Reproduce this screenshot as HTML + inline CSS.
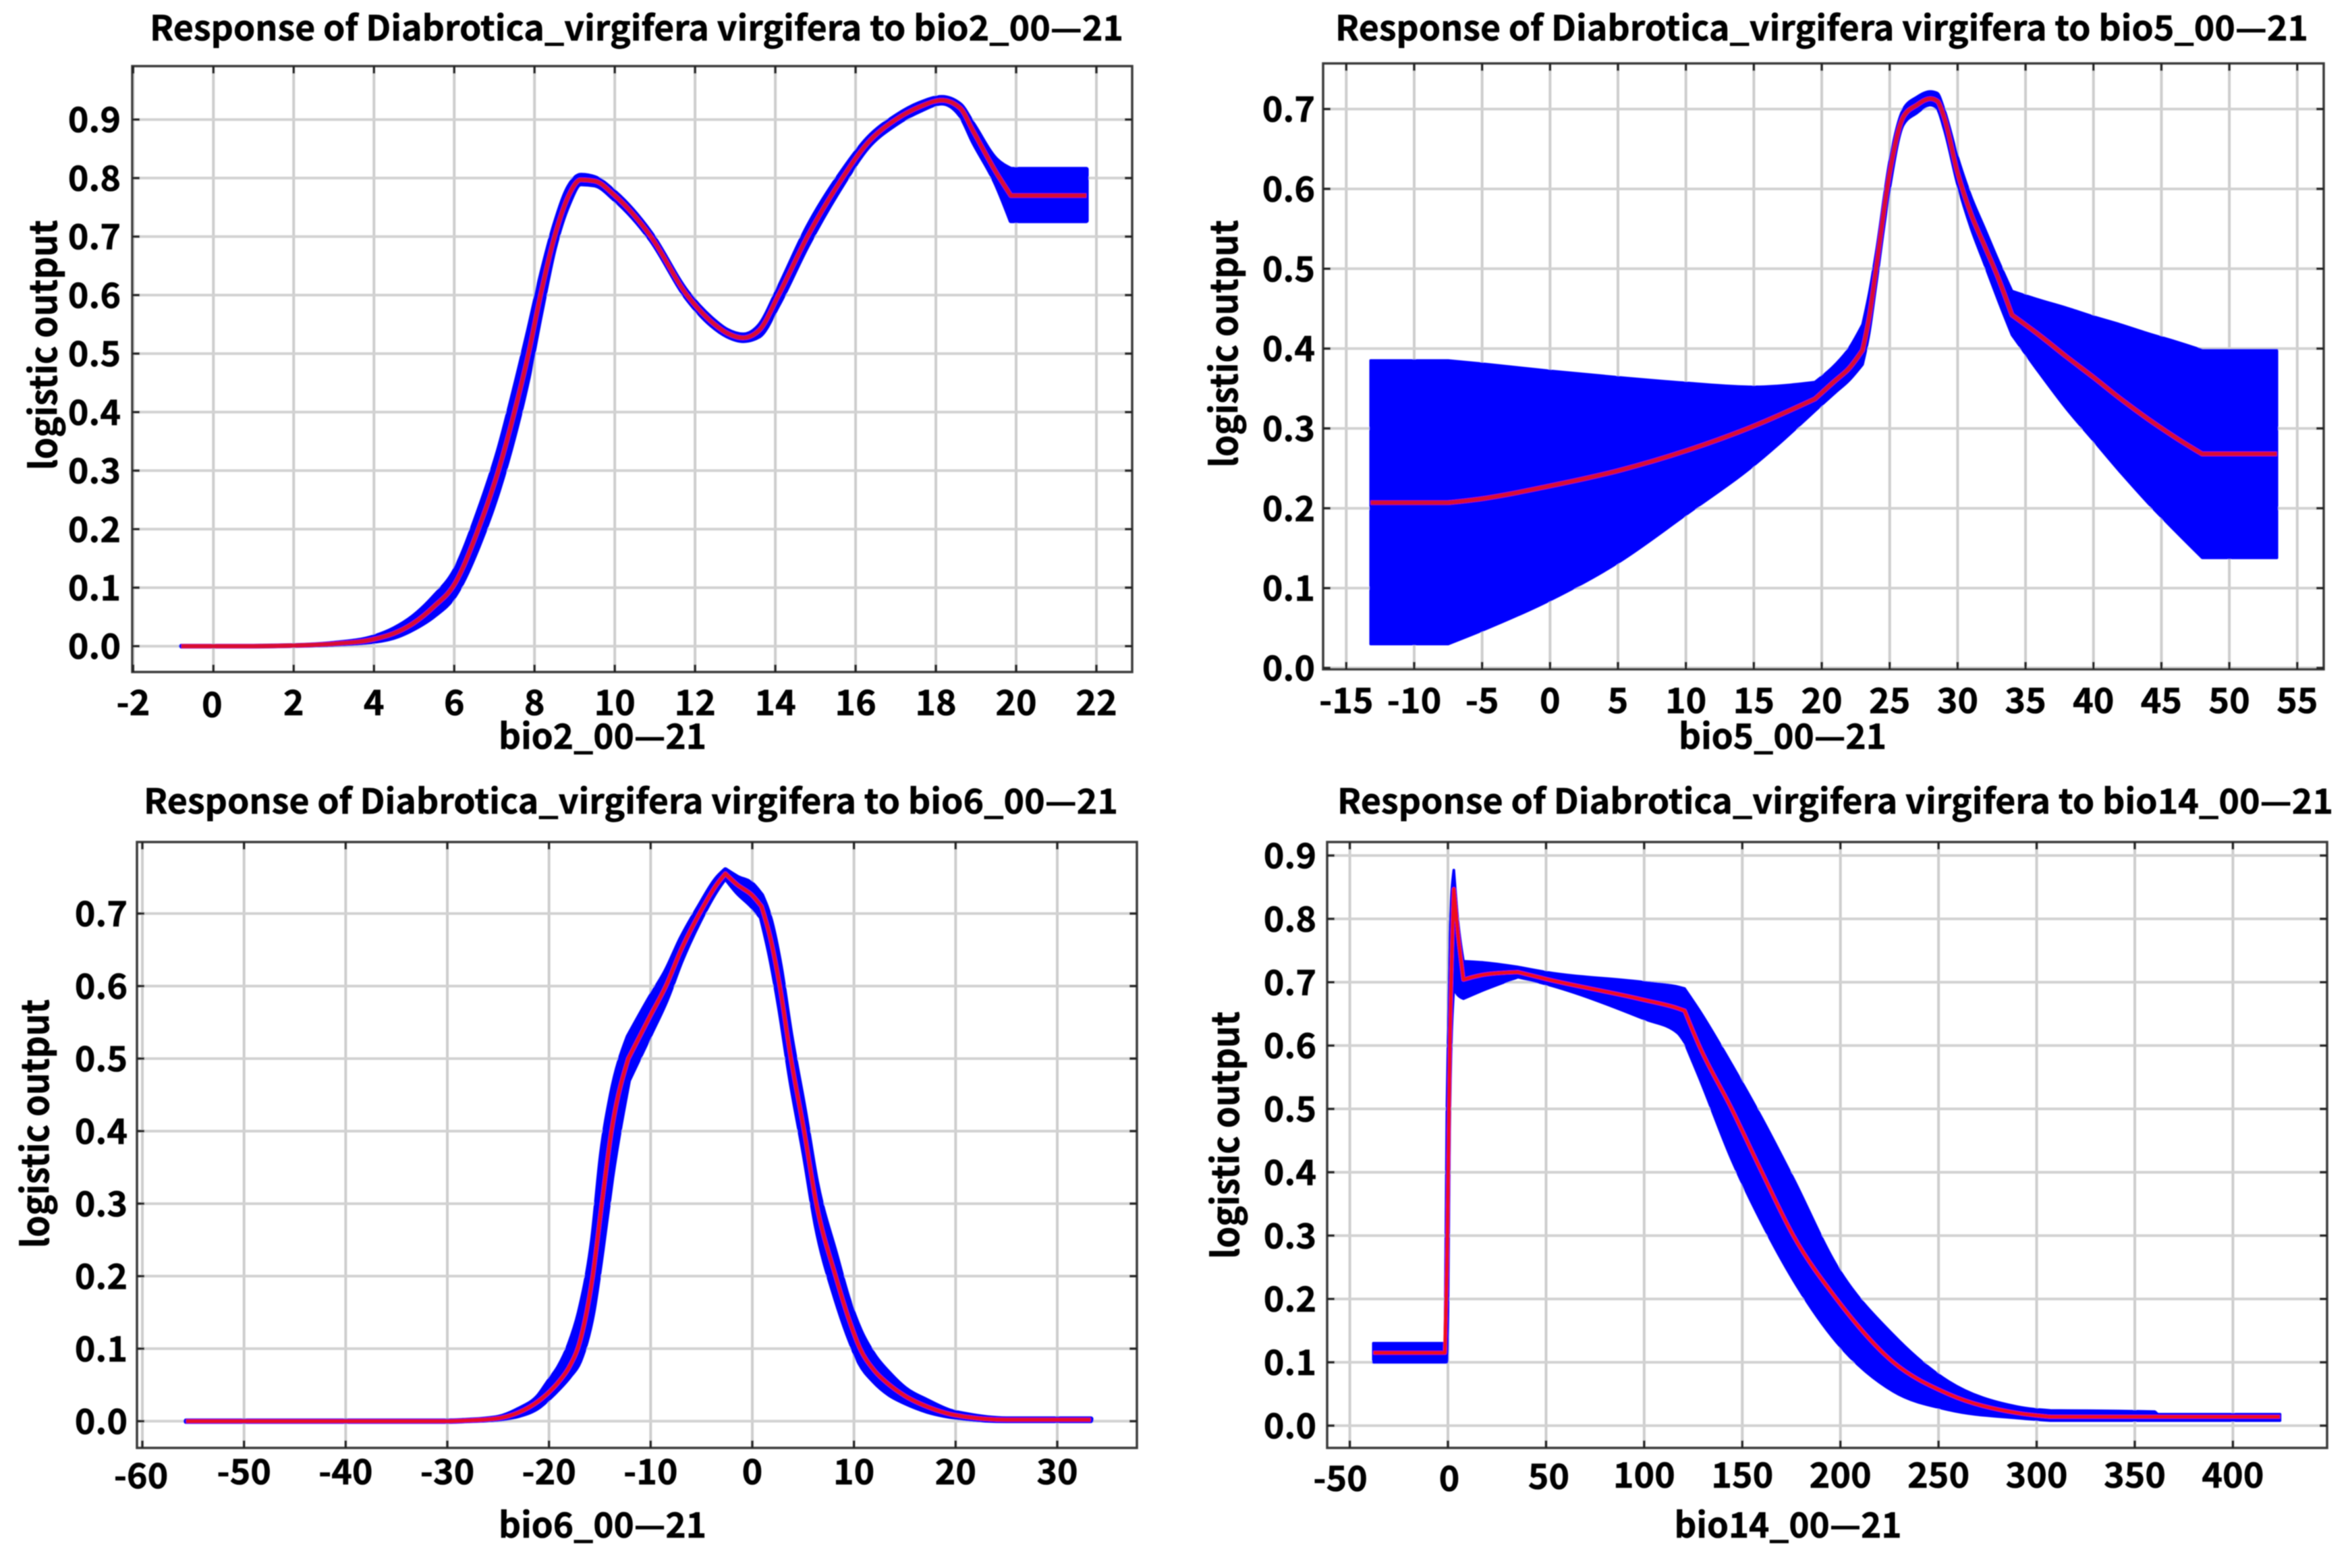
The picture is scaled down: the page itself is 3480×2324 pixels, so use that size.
<!DOCTYPE html>
<html lang="en">
<head>
<meta charset="utf-8">
<title>Response curves</title>
<style>
html,body{margin:0;padding:0;background:#fff;width:3480px;height:2324px;overflow:hidden}
svg{display:block}
text{font-family:"Noto Sans CJK SC","Liberation Sans",sans-serif;font-weight:700;fill:#000;stroke:#000;stroke-width:.6px}
</style>
</head>
<body>
<svg id="chart" xmlns="http://www.w3.org/2000/svg" width="3480" height="2324" viewBox="0 0 3480 2324">
<defs><filter id="soft" filterUnits="userSpaceOnUse" x="0" y="0" width="3480" height="2324"><feGaussianBlur stdDeviation="0.8"/></filter></defs>
<rect width="3480" height="2324" fill="#fff"/>
<g id="root" filter="url(#soft)"></g>
</svg>
<script>
// bio2 data
const bio2X = [-0.8,1,2,3,4,4.5,5,5.5,6,6.6,7.1,7.5,7.85,8.15,8.5,8.85,9.15,9.5,10,10.9,11.8,12.4,12.8,13.2,13.6,14.08,14.8,15.67,16.3,17,17.6,18.15,18.6,18.93,19.5,19.87,21.75];
const bio2Mean = [0,0,.001,.004,.012,.022,.04,.068,.105,.2,.3,.4,.5,.6,.7,.77,.797,.795,.77,.7,.6,.555,.535,.527,.54,.6,.7,.8,.86,.9,.922,.933,.92,.88,.81,.77,.77];
const bio2Upper = [0,0,.001,.005,.016,.03,.052,.085,.128,.23,.335,.44,.54,.63,.72,.785,.805,.801,.776,.706,.606,.561,.54,.532,.548,.612,.716,.812,.868,.906,.928,.938,.926,.892,.832,.815,.815];
const bio2Lower = [0,0,.001,.003,.008,.015,.03,.052,.085,.17,.265,.36,.46,.565,.68,.755,.79,.788,.763,.694,.594,.549,.53,.522,.53,.584,.684,.788,.852,.892,.915,.928,.908,.862,.79,.727,.727];
const bio2Kinks = [19.87];
const bio2XTicks = [-2,0,2,4,6,8,10,12,14,16,18,20,22];
const bio2YTicks = [0,.1,.2,.3,.4,.5,.6,.7,.8,.9];

// bio5 data
const bio5X = [-13.2,-7.5,-5,0,5,10,15,19.5,21,22,23,23.5,24,25,26,27,28,28.5,29,30,31,32,33,34,36,38,40,42,44,46,48,53.5];
const bio5Mean = [.207,.207,.212,.228,.247,.272,.303,.337,.36,.375,.398,.44,.5,.62,.69,.705,.713,.71,.69,.62,.568,.528,.488,.442,.417,.39,.364,.337,.312,.289,.268,.268];
const bio5Upper = [.385,.385,.381,.372,.364,.357,.352,.358,.38,.4,.43,.47,.52,.635,.7,.715,.722,.72,.7,.64,.59,.55,.51,.472,.461,.451,.44,.43,.419,.409,.398,.398];
const bio5Lower = [.03,.03,.047,.085,.132,.192,.254,.322,.345,.36,.38,.42,.48,.6,.68,.695,.705,.7,.675,.605,.55,.505,.46,.417,.37,.325,.285,.245,.207,.172,.138,.138];
const bio5Kinks = [-7.5,19.5,23,34,48];
const bio5XTicks = [-15,-10,-5,0,5,10,15,20,25,30,35,40,45,50,55];
const bio5YTicks = [0,.1,.2,.3,.4,.5,.6,.7];

// bio6 data
const bio6X = [-55.7,-30,-28,-25,-23,-21,-20,-19,-18,-17,-15.7,-14.8,-13.85,-12.2,-10,-8.5,-7,-5.2,-3.5,-2.65,-1.5,0,.9,1.8,2.7,3.8,5.1,6.3,8.2,9.4,10.6,12,13.5,15,17.2,19.4,21,25,33.3];
const bio6Mean = [0,0,.001,.004,.012,.028,.04,.055,.075,.108,.2,.3,.4,.5,.56,.6,.65,.7,.74,.755,.74,.725,.71,.665,.6,.5,.4,.3,.2,.145,.1,.07,.05,.035,.02,.01,.006,.002,.002];
const bio6Upper = [0,0,.001,.005,.016,.035,.055,.075,.105,.15,.25,.37,.45,.53,.585,.62,.665,.71,.748,.76,.75,.74,.725,.69,.63,.53,.43,.33,.23,.17,.125,.09,.065,.045,.028,.014,.009,.003,.003];
const bio6Lower = [0,0,.001,.003,.008,.02,.032,.046,.062,.083,.15,.235,.335,.47,.535,.58,.635,.69,.733,.75,.73,.71,.695,.64,.57,.47,.37,.27,.17,.12,.08,.055,.037,.026,.014,.007,.004,.001,.001];
const bio6Kinks = [-12.2,-2.65,.9];
const bio6XTicks = [-60,-50,-40,-30,-20,-10,0,10,20,30];
const bio6YTicks = [0,.1,.2,.3,.4,.5,.6,.7];

// bio14 data
const bio14X = [-38,-1.5,-.5,1,3,5,7.9,18.5,35.7,50,100,117,120.6,128,144.6,160,176,198,227,255,290,307,360,362,424];
const bio14Mean = [.115,.115,.25,.6,.847,.78,.704,.712,.716,.705,.672,.659,.655,.6,.5,.4,.3,.2,.1,.05,.02,.014,.014,.014,.014];
const bio14Upper = [.13,.13,.5,.78,.877,.8,.733,.731,.724,.716,.7,.693,.69,.656,.57,.485,.39,.253,.143,.07,.03,.024,.022,.018,.018];
const bio14Lower = [.1,.1,.1,.5,.69,.68,.674,.688,.708,.697,.642,.62,.605,.55,.42,.32,.23,.132,.054,.025,.012,.008,.008,.008,.008];
const bio14Kinks = [-1.5,3,7.9,35.7,120.6,307];
const bio14XTicks = [-50,0,50,100,150,200,250,300,350,400];
const bio14YTicks = [0,.1,.2,.3,.4,.5,.6,.7,.8,.9];

const NS = 'http://www.w3.org/2000/svg';
const root = document.getElementById('root');

function make(parent, tag, attrs, text) {
  const el = document.createElementNS(NS, tag);
  for (const k in attrs) el.setAttribute(k, attrs[k]);
  if (text !== undefined) el.textContent = text;
  parent.appendChild(el);
  return el;
}
function linear(d0, d1, r0, r1) {
  return v => r0 + (v - d0) * (r1 - r0) / (d1 - d0);
}
// monotone cubic segments over one unbroken run of points
function monoRun(xs, ys) {
  const n = xs.length, segs = [];
  if (n < 2) return segs;
  const h = [], m = [], t = new Array(n);
  for (let i = 0; i < n - 1; i++) { h[i] = xs[i + 1] - xs[i]; m[i] = (ys[i + 1] - ys[i]) / h[i]; }
  for (let i = 1; i < n - 1; i++) {
    const p = (m[i - 1] * h[i] + m[i] * h[i - 1]) / (h[i - 1] + h[i]);
    t[i] = (Math.sign(m[i - 1]) + Math.sign(m[i])) * Math.min(Math.abs(m[i - 1]), Math.abs(m[i]), 0.5 * Math.abs(p));
  }
  if (n === 2) { t[0] = m[0]; t[1] = m[0]; }
  else { t[0] = (3 * m[0] - t[1]) / 2; t[n - 1] = (3 * m[n - 2] - t[n - 2]) / 2; }
  for (let i = 0; i < n - 1; i++) {
    segs.push([xs[i], ys[i], xs[i] + h[i] / 3, ys[i] + t[i] * h[i] / 3, xs[i + 1] - h[i] / 3, ys[i + 1] - t[i + 1] * h[i] / 3, xs[i + 1], ys[i + 1]]);
  }
  return segs;
}
function curveSegs(xs, ys, breaks) {
  const cuts = [0].concat(breaks.filter(b => b > 0 && b < xs.length - 1).sort((a, b) => a - b), [xs.length - 1]);
  let out = [];
  for (let c = 0; c < cuts.length - 1; c++) {
    out = out.concat(monoRun(xs.slice(cuts[c], cuts[c + 1] + 1), ys.slice(cuts[c], cuts[c + 1] + 1)));
  }
  return out;
}
function f1(v) { return v.toFixed(1); }
function forwardPath(segs) {
  return segs.map(s => 'C' + [s[2], s[3], s[4], s[5], s[6], s[7]].map(f1).join(' ')).join('');
}
function reversePath(segs) {
  return segs.slice().reverse().map(s => 'C' + [s[4], s[5], s[2], s[3], s[0], s[1]].map(f1).join(' ')).join('');
}

function drawPanel(p) {
  const sx = linear(p.xCal[0], p.xCal[1], p.xCal[2], p.xCal[3]);
  const sy = linear(p.yCal[0], p.yCal[1], p.yCal[2], p.yCal[3]);
  const f = p.frame;

  const g = make(root, 'g', {});
  
  

  const title = make(g, 'text', {x: (p.title[0] + p.title[1]) / 2, y: p.title[2], 'text-anchor': 'middle', 'font-size': 51, textLength: p.title[1] - p.title[0], lengthAdjust: 'spacingAndGlyphs'}, 'Response of Diabrotica_virgifera virgifera to ' + p.id + '_00\u201421');
  
  

  // grid lines
  p.xTicks.forEach(t => {
    const line = make(g, 'line', {x1: sx(t), x2: sx(t), y1: f[2], y2: f[3], stroke: '#cdcdcd', 'stroke-width': 4});
    
    
  });
  p.yTicks.forEach(t => {
    const line = make(g, 'line', {x1: f[0], x2: f[1], y1: sy(t), y2: sy(t), stroke: '#d2d2d2', 'stroke-width': 4});
    
    
  });

  const px = p.x.map(sx);
  const breaks = p.kinks.map(k => p.x.indexOf(k));

  // uncertainty band
  const upSegs = curveSegs(px, p.upper.map(sy), breaks);
  const loSegs = curveSegs(px, p.lower.map(sy), breaks);
  const bandD = 'M' + f1(upSegs[0][0]) + ' ' + f1(upSegs[0][1]) + forwardPath(upSegs) +
    'L' + f1(loSegs[loSegs.length - 1][6]) + ' ' + f1(loSegs[loSegs.length - 1][7]) + reversePath(loSegs) + 'Z';
  const band = make(g, 'path', {d: bandD, fill: '#0000ff', stroke: '#0000ff', 'stroke-width': p.bandStroke, 'stroke-linejoin': 'round'});
  
  

  // mean line
  const meanSegs = curveSegs(px, p.mean.map(sy), breaks);
  const mean = make(g, 'path', {d: 'M' + f1(meanSegs[0][0]) + ' ' + f1(meanSegs[0][1]) + forwardPath(meanSegs), fill: 'none', stroke: p.lineColor, 'stroke-width': p.lineWidth, 'stroke-linejoin': 'round'});
  
  

  // frame
  const frame = make(g, 'rect', {x: f[0], y: f[2], width: f[1] - f[0], height: f[3] - f[2], fill: 'none', stroke: '#3a3a3a', 'stroke-width': 3.5});
  
  

  // ticks & labels
  p.xTicks.forEach(t => {
    [[f[3], f[3] - 11], [f[2], f[2] + 11]].forEach(pair => {
      const tick = make(g, 'line', {x1: sx(t), x2: sx(t), y1: pair[0], y2: pair[1], stroke: '#222', 'stroke-width': 3.5});
      
      
    });
    const nudge = p.nudge[t] || [0, 0];
    const lab = make(g, 'text', {x: sx(t) + nudge[0], y: p.xLabelY + nudge[1], 'text-anchor': 'middle', 'font-size': 52}, String(t));
    
    
  });
  p.yTicks.forEach(t => {
    [[f[0], f[0] + 11], [f[1], f[1] - 11]].forEach(pair => {
      const tick = make(g, 'line', {x1: pair[0], x2: pair[1], y1: sy(t), y2: sy(t), stroke: '#222', 'stroke-width': 3.5});
      
      
    });
    const lab = make(g, 'text', {x: p.yLabelX, y: sy(t) + 19, 'text-anchor': 'end', 'font-size': 52}, t.toFixed(1));
    
    
  });

  const xTitle = make(g, 'text', {x: p.xTitle[0], y: p.xTitle[1], 'text-anchor': 'middle', 'font-size': 52, textLength: p.xTitle[2], lengthAdjust: 'spacingAndGlyphs'}, p.id + '_00\u201421');
  
  

  const yMid = (p.yTitle[1] + p.yTitle[2]) / 2;
  const yTitle = make(g, 'text', {x: 0, y: 0, transform: 'translate(' + p.yTitle[0] + ',' + yMid + ') rotate(-90)', 'text-anchor': 'middle', 'font-size': 55, textLength: p.yTitle[2] - p.yTitle[1], lengthAdjust: 'spacingAndGlyphs'}, 'logistic output');
  
  
}

drawPanel({id: 'bio2', x: bio2X, mean: bio2Mean, upper: bio2Upper, lower: bio2Lower, kinks: bio2Kinks, xTicks: bio2XTicks, yTicks: bio2YTicks,
  frame: [196, 1678, 98, 996], xCal: [0, 22, 316.3, 1625], yCal: [0, .9, 957.7, 177.2],
  title: [222, 1665, 60], xLabelY: 1060, yLabelX: 179, xTitle: [893, 1110, 308], yTitle: [84, 326, 697],
  nudge: {0: [-2, 3]}, bandStroke: 7, lineColor: '#d80a30', lineWidth: 6.5});
drawPanel({id: 'bio5', x: bio5X, mean: bio5Mean, upper: bio5Upper, lower: bio5Lower, kinks: bio5Kinks, xTicks: bio5XTicks, yTicks: bio5YTicks,
  frame: [1961, 3444, 94, 992], xCal: [-15, 55, 1995.3, 3404.8], yCal: [0, .7, 990, 161.6],
  title: [1979, 3421, 60], xLabelY: 1057, yLabelX: 1949, xTitle: [2642, 1110, 308], yTitle: [1834, 326, 693],
  nudge: {}, bandStroke: 4, lineColor: '#d80a30', lineWidth: 6.5});
drawPanel({id: 'bio6', x: bio6X, mean: bio6Mean, upper: bio6Upper, lower: bio6Lower, kinks: bio6Kinks, xTicks: bio6XTicks, yTicks: bio6YTicks,
  frame: [203, 1685, 1248, 2146], xCal: [-60, 30, 211, 1567], yCal: [0, .7, 2106.4, 1354],
  title: [213, 1657, 1206], xLabelY: 2200, yLabelX: 189, xTitle: [893, 2279, 308], yTitle: [72, 1481, 1850],
  nudge: {'-60': [-2, 6]}, bandStroke: 8, lineColor: '#e60a28', lineWidth: 6});
drawPanel({id: 'bio14', x: bio14X, mean: bio14Mean, upper: bio14Upper, lower: bio14Lower, kinks: bio14Kinks, xTicks: bio14XTicks, yTicks: bio14YTicks,
  frame: [1967, 3449, 1248, 2146], xCal: [0, 400, 2146, 3309.4], yCal: [0, .9, 2113, 1268],
  title: [1982, 3458, 1206], xLabelY: 2205, yLabelX: 1951, xTitle: [2650, 2279, 337], yTitle: [1836, 1499, 1866],
  nudge: {'-50': [-14, 5], 0: [2, 5], 50: [4, 2]}, bandStroke: 4, lineColor: '#f00a1e', lineWidth: 5.5});
</script>
</body>
</html>
